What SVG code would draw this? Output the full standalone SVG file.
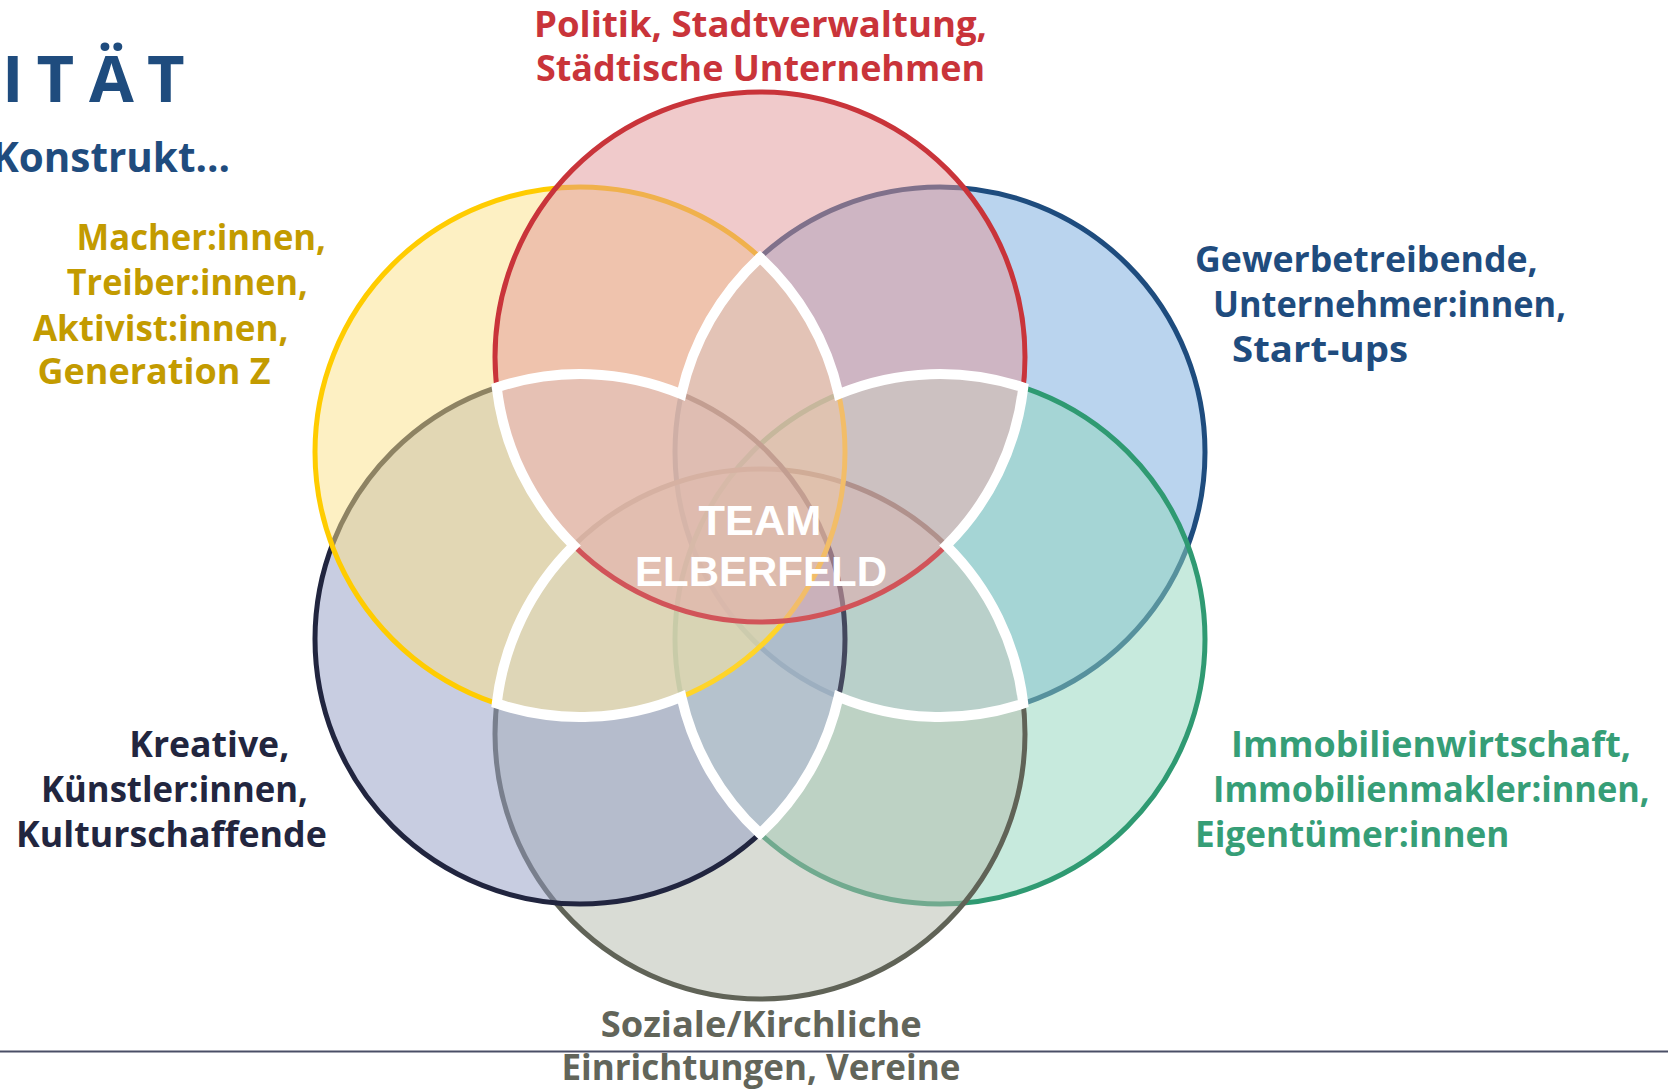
<svg xmlns="http://www.w3.org/2000/svg" width="1668" height="1089" viewBox="0 0 1668 1089">
<style>
  .c { stroke-width: 5; fill-opacity: 0.5; }
  .lbl { font-family: "Open Sans", "Noto Sans", sans-serif; font-weight: 700; font-size: 35px; }
  .title { font-family: "Open Sans", "Noto Sans", sans-serif; font-weight: 700; fill: #1F4C7E; }
  .core { font-family: "Liberation Sans", Arial, sans-serif; font-weight: 700; font-size: 42px; fill: #FFFFFF; text-anchor: middle; }
  .red { fill: #C9343A; } .yel { fill: #C39B00; } .blu { fill: #1F4C7E; }
  .grn { fill: #369E77; } .nav { fill: #22263F; } .gry { fill: #62655A; }
</style>
<rect width="1668" height="1089" fill="#FFFFFF"/>
<g id="title">
  <text class="title" font-size="65" x="2 36.5 89 147" y="101.7">ITÄT</text>
  <text class="title" font-size="42" x="-8" y="171.7" textLength="238" lengthAdjust="spacingAndGlyphs">Konstrukt...</text>
</g>
<g id="connectors"/>
<g id="node-gewerbe">
  <circle class="c" cx="940" cy="452" r="265" fill="#75A9DD" stroke="#1E4C7E"/>
  <text class="lbl blu" x="1195" y="271.7" textLength="342.7" lengthAdjust="spacingAndGlyphs">Gewerbetreibende,</text>
  <text class="lbl blu" x="1213" y="316.7" textLength="353" lengthAdjust="spacingAndGlyphs">Unternehmer:innen,</text>
  <text class="lbl blu" x="1232" y="361.7" textLength="176" lengthAdjust="spacingAndGlyphs">Start-ups</text>
</g>
<g id="node-immobilien">
  <circle class="c" cx="940" cy="639" r="265" fill="#8FD5BB" stroke="#2F9A72"/>
  <text class="lbl grn" x="1231" y="757.3" textLength="400" lengthAdjust="spacingAndGlyphs">Immobilienwirtschaft,</text>
  <text class="lbl grn" x="1213" y="802.3" textLength="436.6" lengthAdjust="spacingAndGlyphs">Immobilienmakler:innen,</text>
  <text class="lbl grn" x="1195" y="846.7" textLength="314.4" lengthAdjust="spacingAndGlyphs">Eigentümer:innen</text>
</g>
<g id="node-soziale">
  <circle class="c" cx="760" cy="734" r="265" fill="#B3B9AB" stroke="#606357"/>
  <text class="lbl gry" x="600.7" y="1036.7" textLength="321" lengthAdjust="spacingAndGlyphs">Soziale/Kirchliche</text>
  <text class="lbl gry" x="561.4" y="1080" textLength="399" lengthAdjust="spacingAndGlyphs">Einrichtungen, Vereine</text>
</g>
<g id="node-kreative">
  <circle class="c" cx="580" cy="639" r="265" fill="#919BC3" stroke="#21253F"/>
  <text class="lbl nav" x="129.3" y="757.3" textLength="160" lengthAdjust="spacingAndGlyphs">Kreative,</text>
  <text class="lbl nav" x="41" y="802.3" textLength="267" lengthAdjust="spacingAndGlyphs">Künstler:innen,</text>
  <text class="lbl nav" x="16" y="847.3" textLength="310.8" lengthAdjust="spacingAndGlyphs">Kulturschaffende</text>
</g>
<g id="node-macher">
  <circle class="c" cx="580" cy="452" r="265" fill="#FBE187" stroke="#FFCC00"/>
  <text class="lbl yel" x="76.6" y="250" textLength="249.4" lengthAdjust="spacingAndGlyphs">Macher:innen,</text>
  <text class="lbl yel" x="66.8" y="295" textLength="241" lengthAdjust="spacingAndGlyphs">Treiber:innen,</text>
  <text class="lbl yel" x="32.9" y="340.7" textLength="255.7" lengthAdjust="spacingAndGlyphs">Aktivist:innen,</text>
  <text class="lbl yel" x="37.5" y="384" textLength="233" lengthAdjust="spacingAndGlyphs">Generation Z</text>
</g>
<g id="node-politik">
  <circle class="c" cx="760" cy="357" r="265" fill="#E19597" stroke="#C9343A"/>
  <text class="lbl red" x="534" y="36.7" textLength="453" lengthAdjust="spacingAndGlyphs">Politik, Stadtverwaltung,</text>
  <text class="lbl red" x="536" y="81" textLength="449" lengthAdjust="spacingAndGlyphs">Städtische Unternehmen</text>
</g>
<g id="node-team">
  <path d="M760,257.51 A265,265 0 0 1 838.61,394.17 A265,265 0 0 1 1023.26,387.41 A265,265 0 0 1 946.26,545.5 A265,265 0 0 1 1023.26,703.59 A265,265 0 0 1 838.61,696.83 A265,265 0 0 1 760,833.49 A265,265 0 0 1 681.39,696.83 A265,265 0 0 1 496.74,703.59 A265,265 0 0 1 573.74,545.5 A265,265 0 0 1 496.74,387.41 A265,265 0 0 1 681.39,394.17 A265,265 0 0 1 760,257.51 Z" fill="#FFFFFF" fill-opacity="0.16" stroke="#FFFFFF" stroke-width="10" stroke-linejoin="miter" stroke-miterlimit="20"/>
  <text class="core" x="760" y="535" textLength="123" lengthAdjust="spacingAndGlyphs">TEAM</text>
  <text class="core" x="761" y="586" textLength="252" lengthAdjust="spacingAndGlyphs">ELBERFELD</text>
</g>
<line x1="0" y1="1051.5" x2="1668" y2="1051.5" stroke="#4A4F66" stroke-width="2"/>
</svg>
